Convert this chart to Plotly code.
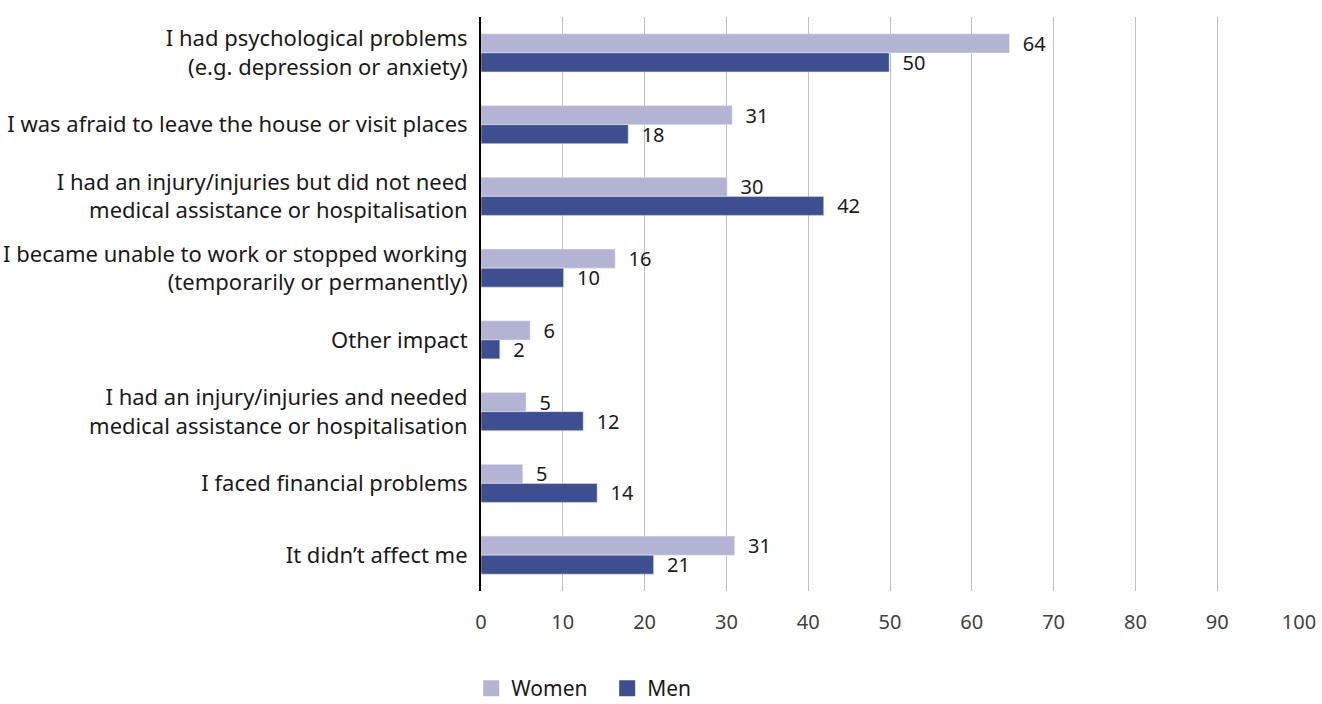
import plotly.graph_objects as go

categories = [
    "I had psychological problems<br>(e.g. depression or anxiety)",
    "I was afraid to leave the house or visit places",
    "I had an injury/injuries but did not need<br>medical assistance or hospitalisation",
    "I became unable to work or stopped working<br>(temporarily or permanently)",
    "Other impact",
    "I had an injury/injuries and needed<br>medical assistance or hospitalisation",
    "I faced financial problems",
    "It didn\u2019t affect me",
]
women = [64.6, 30.7, 30.1, 16.4, 6.0, 5.5, 5.1, 31.0]
men = [49.9, 18.0, 41.9, 10.1, 2.3, 12.5, 14.2, 21.1]
women_labels = ["64", "31", "30", "16", "6", "5", "5", "31"]
men_labels = ["50", "18", "42", "10", "2", "12", "14", "21"]
x_ticks = [0, 10, 20, 30, 40, 50, 60, 70, 80, 90, 100]

FONT = "Noto Sans"
WOMEN_C = "#b3b4d4"
MEN_C = "#3d4f91"

fig = go.Figure()
for name, vals, labels, col in [("Women", women, women_labels, WOMEN_C),
                                ("Men", men, men_labels, MEN_C)]:
    fig.add_trace(go.Bar(
        name=name, y=categories, x=vals, orientation="h",
        marker_color=col, text=labels, texttemplate="  %{text}",
        textposition="outside", constraintext="none",
        textfont=dict(size=20, color="#1a1a1a", family=FONT),
        cliponaxis=False, showlegend=False,
    ))
# legend entries with larger square symbols
for name, col in [("Women", WOMEN_C), ("Men", MEN_C)]:
    fig.add_trace(go.Scatter(
        name=name, x=[None], y=[None], mode="markers",
        marker=dict(symbol="square", size=17, color=col), showlegend=True,
    ))

fig.update_layout(
    width=1322, height=704,
    barmode="group", bargap=0.47, bargroupgap=0,
    plot_bgcolor="white", paper_bgcolor="white",
    margin=dict(l=481, r=23, t=17, b=113, autoexpand=False),
    font=dict(family=FONT, size=20, color="#1a1a1a"),
    legend=dict(orientation="h", x=-0.012, xanchor="left",
                yref="container", y=0.022, yanchor="middle",
                font=dict(size=21, color="#1a1a1a"), traceorder="normal",
                itemwidth=30, entrywidth=91, entrywidthmode="pixels"),
)
fig.update_xaxes(
    range=[0, 100], tickvals=x_ticks, showgrid=True, gridcolor="#bfbfbf", gridwidth=1,
    zeroline=False, showline=False, ticks="",
    tickfont=dict(size=20, color="#404040"), ticklabelstandoff=17,
)
fig.update_yaxes(
    autorange="reversed", showline=True, linecolor="black", linewidth=2,
    ticks="", ticklabelstandoff=7, tickfont=dict(size=22, color="#1a1a1a"),
    showgrid=False,
)
fig.write_html("out.html", config={"displayModeBar": False},
               post_script="document.body.style.margin='0';")
